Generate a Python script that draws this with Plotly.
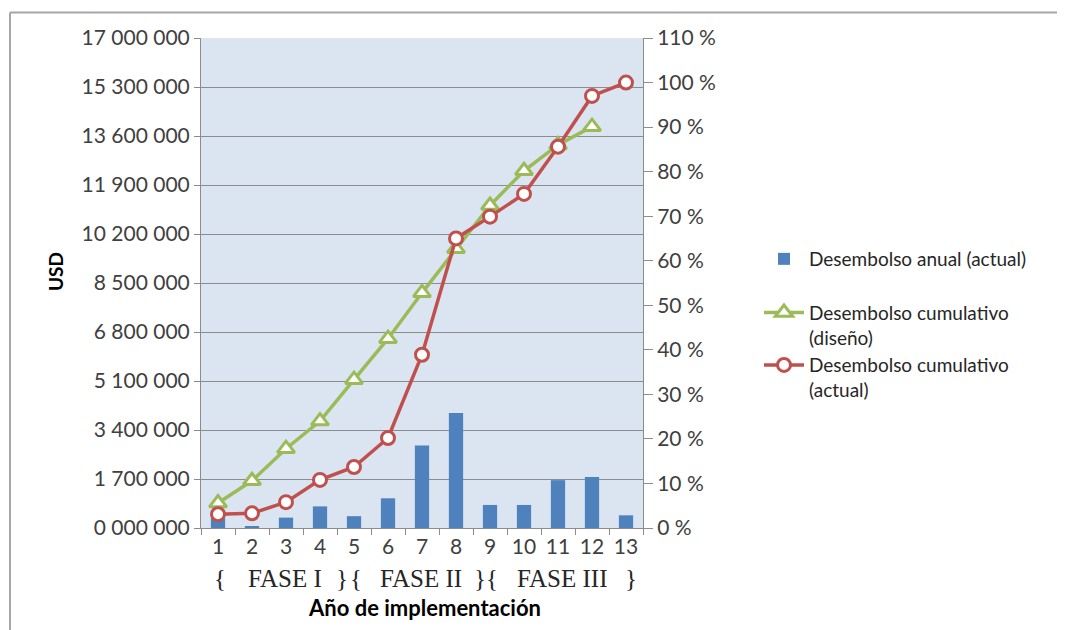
import plotly.graph_objects as go

years = [str(i) for i in range(1, 14)]
annual_usd = [340000, 60000, 360000, 750000, 410000, 1030000, 2860000, 3990000,
              800000, 800000, 1660000, 1770000, 440000]
cum_design_pct = [5.6, 10.6, 17.8, 24.0, 33.3, 42.5, 52.8, 62.7, 72.4, 80.2, 86.0, 90.1]
cum_actual_pct = [3.1, 3.3, 5.8, 10.8, 13.7, 20.2, 38.9, 65.0, 69.9, 75.0, 85.6, 97.0, 100.0]

usd_ticks = [i * 1700000 for i in range(11)]
usd_ticktext = ["0 000 000", "1 700 000", "3 400 000", "5 100 000", "6 800 000",
                "8 500 000", "10 200 000", "11 900 000", "13 600 000", "15 300 000",
                "17 000 000"]
pct_ticks = list(range(0, 111, 10))
pct_ticktext = [f"{v} %" for v in pct_ticks]

phase_labels = ["{", "FASE I", "}", "{", "FASE II", "}{", "FASE III", "}"]
phase_pos = [0.06, 1.985, 3.65, 4.06, 5.97, 7.88, 10.12, 12.15]

FONT = "Lato"
TXT = "#404040"
BLUE = "#4f81bd"
GREEN = "#9bbb59"
RED = "#c0504d"

# plot area in screen pixels (page body adds an 8px offset)
PX_L, PX_R, PX_T, PX_B = 201, 643, 38, 528
W, H = 1065, 630
PW, PH = PX_R - PX_L, PX_B - PX_T


def px_x(px):
    return (px - PX_L) / PW


def px_y(py):
    return (PX_B - py) / PH


fig = go.Figure()
fig.add_trace(go.Bar(x=years, y=annual_usd, name="Desembolso anual (actual)",
                     legendgroup="a",
                     marker=dict(color=BLUE, line=dict(width=0)), width=0.42,
                     yaxis="y"))
fig.add_trace(go.Scatter(x=years[:len(cum_design_pct)], y=cum_design_pct,
                         name="Desembolso cumulativo<br>(diseño)", mode="lines+markers",
                         legendgroup="b",
                         line=dict(color=GREEN, width=3.5),
                         marker=dict(symbol="triangle-up", size=15, color="white",
                                     line=dict(color=GREEN, width=3)),
                         yaxis="y2"))
fig.add_trace(go.Scatter(x=years, y=cum_actual_pct,
                         name="Desembolso cumulativo<br>(actual)", mode="lines+markers",
                         legendgroup="b",
                         line=dict(color=RED, width=3.5),
                         marker=dict(symbol="circle", size=13, color="white",
                                     line=dict(color=RED, width=3)),
                         yaxis="y2"))

fig.update_layout(
    width=W, height=H,
    margin=dict(l=PX_L - 8, r=W + 8 - PX_R, t=PX_T - 8, b=H + 8 - PX_B, autoexpand=False),
    paper_bgcolor="white", plot_bgcolor="#dbe5f1",
    font=dict(family=FONT, size=21, color=TXT),
    showlegend=True,
    legend=dict(x=px_x(759), y=px_y(240), xanchor="left", yanchor="top", valign="top",
                font=dict(family=FONT, size=19, color="#262626"),
                bgcolor="rgba(0,0,0,0)", itemwidth=40, tracegroupgap=26),
    xaxis=dict(type="category", range=[-0.5, 12.5], showgrid=False,
               ticks="outside", tickson="boundaries", ticklen=6, tickcolor="#8c8c8c",
               showline=True, linecolor="#8c8c8c", linewidth=1,
               tickfont=dict(family=FONT, size=21, color=TXT)),
    yaxis=dict(range=[0, 17000000], tickvals=usd_ticks, ticktext=usd_ticktext,
               showgrid=True, gridcolor="#8c8c8c", gridwidth=1,
               ticks="outside", ticklen=6, tickcolor="#8c8c8c",
               showline=True, linecolor="#8c8c8c", linewidth=1, zeroline=False,
               tickfont=dict(family=FONT, size=21, color=TXT)),
    yaxis2=dict(range=[0, 110], tickvals=pct_ticks, ticktext=pct_ticktext,
                overlaying="y", side="right", showgrid=False, zeroline=False,
                ticks="outside", ticklen=9, tickcolor="#8c8c8c",
                showline=True, linecolor="#8c8c8c", linewidth=1,
                tickfont=dict(family=FONT, size=21, color=TXT)),
)

for txt, pos in zip(phase_labels, phase_pos):
    fig.add_annotation(x=pos, y=px_y(578), xref="x", yref="paper", text=txt,
                       showarrow=False, xanchor="center", yanchor="middle",
                       font=dict(family="Liberation Serif", size=25, color="#262626"))

fig.add_annotation(x=px_x(424), y=px_y(607), xref="paper", yref="paper",
                   text="<b>Año de implementación</b>", showarrow=False,
                   xanchor="center", yanchor="middle",
                   font=dict(family=FONT, size=22, color="black"))

fig.add_annotation(x=px_x(55), y=px_y(272), xref="paper", yref="paper",
                   text="<b>USD</b>", showarrow=False, textangle=-90,
                   xanchor="center", yanchor="middle",
                   font=dict(family=FONT, size=19, color="black"))

# outer frame
fig.add_shape(type="line", xref="paper", yref="paper",
              x0=px_x(10), x1=px_x(10), y0=px_y(12.5), y1=px_y(650),
              line=dict(color="#a6a6a6", width=2))
fig.add_shape(type="line", xref="paper", yref="paper",
              x0=px_x(10), x1=px_x(1080), y0=px_y(12.5), y1=px_y(12.5),
              line=dict(color="#a6a6a6", width=2))

fig.write_html("out.html")
